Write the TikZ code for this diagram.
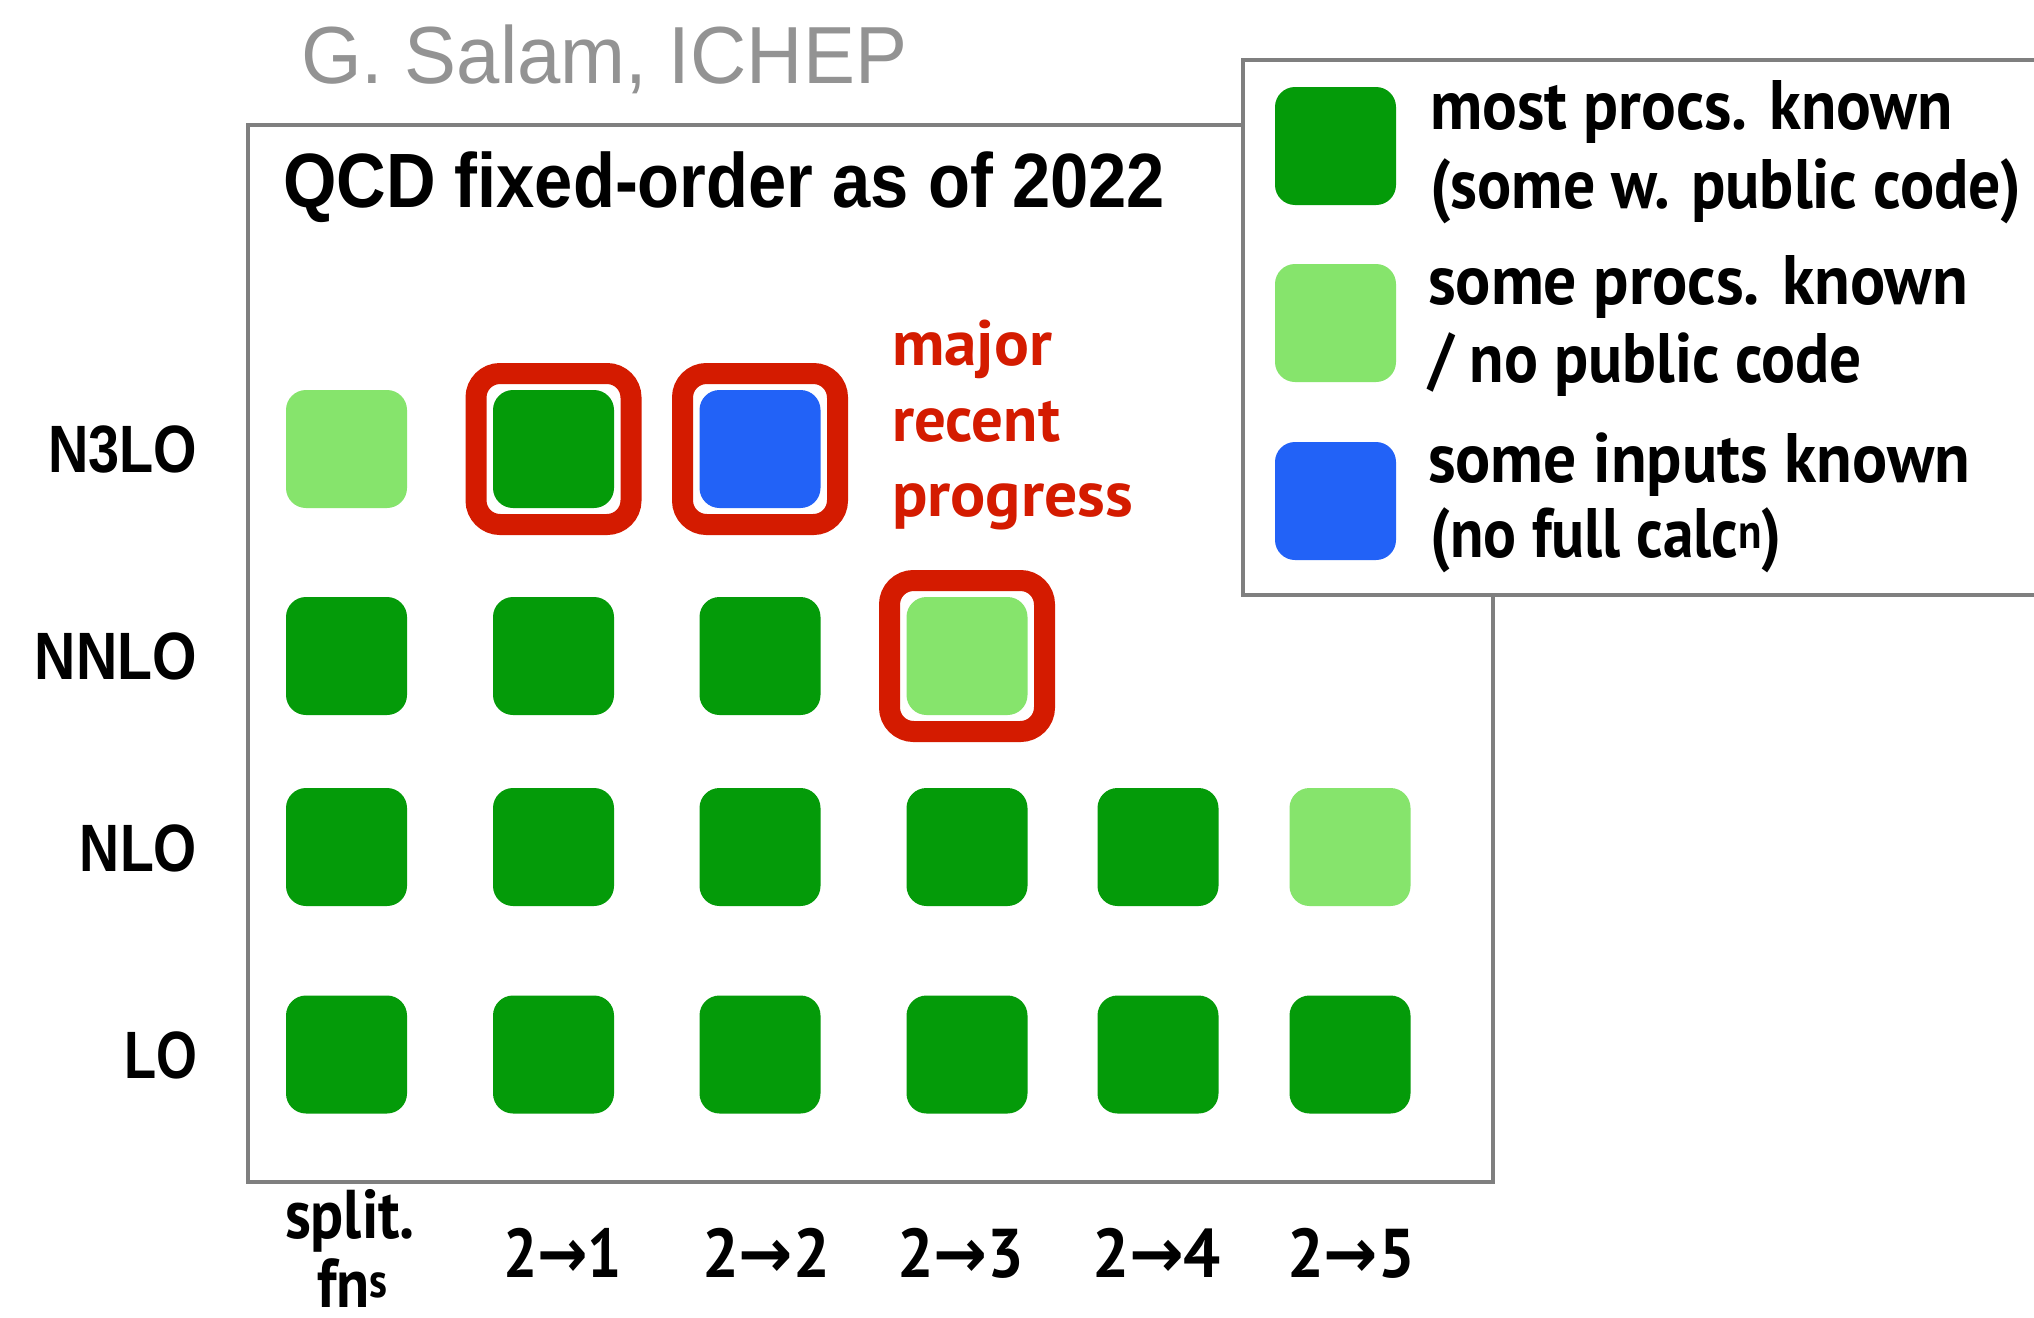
\documentclass[tikz,border=0pt]{standalone}
\usepackage{fontspec}
\usepackage{graphicx}
\setmainfont{PT Sans}
\newfontfamily\dinfont{PT Sans}
\newfontfamily\helvfont{Liberation Sans}
\newfontfamily\arrowfont{DejaVu Sans}
\definecolor{dkgreen}{HTML}{049B09}
\definecolor{ltgreen}{HTML}{86E46C}
\definecolor{inblue}{HTML}{2262F7}
\definecolor{hired}{HTML}{D41B00}
\definecolor{boxgray}{HTML}{7F7F7F}
\definecolor{textgray}{HTML}{939393}
\newcommand\fitw[2]{\resizebox{#1}{\height}{#2}}
\newcommand\arr{{\arrowfont\bfseries →}}
\tikzset{
  cell/.style={rectangle, rounded corners=20pt, minimum width=121pt, minimum height=118pt, inner sep=0pt, draw=none},
  mostk/.style={cell, fill=dkgreen},
  somek/.style={cell, fill=ltgreen},
  inpk/.style={cell, fill=inblue},
  hilite/.style={rectangle, draw=hired, line width=21pt, rounded corners=24pt, minimum width=155pt, minimum height=151pt, inner sep=0pt},
  frame/.style={draw=boxgray, line width=4pt},
  txt/.style={inner sep=0pt, outer sep=0pt, anchor=base west},
  legtxt/.style={txt, font=\dinfont\bfseries\fontsize{70}{70}\selectfont},
  redtxt/.style={txt, text=hired, font=\dinfont\bfseries\fontsize{64}{64}\selectfont},
  collbl/.style={txt, font=\dinfont\bfseries\fontsize{69}{69}\selectfont},
  rowlbl/.style={inner sep=0pt, outer sep=0pt, anchor=base east, font=\helvfont\bfseries\fontsize{67}{67}\selectfont},
}
\begin{document}
\begin{tikzpicture}[x=1pt,y=-1pt]
\clip (0,0) rectangle (2034,1317);
\fill[white] (0,0) rectangle (2034,1317);

% header
\node[txt, text=textgray, font=\helvfont\fontsize{81}{81}\selectfont] (credit) at (301,83) {\fitw{606pt}{G. Salam, ICHEP}};

% main frame
\draw[frame] (248,125) rectangle (1493,1182);
\node[txt, font=\helvfont\bfseries\fontsize{77}{77}\selectfont] (title) at (283,207) {\fitw{882pt}{QCD fixed-order as of 2022}};

% row labels
\node[rowlbl] (rN3) at (197,472) {\fitw{149pt}{N3LO}};
\node[rowlbl] (rN2) at (197,679) {\fitw{162pt}{NNLO}};
\node[rowlbl] (rN1) at (197,871) {\fitw{117pt}{NLO}};
\node[rowlbl] (rL0) at (197,1078) {\fitw{73pt}{LO}};

% grid: N3LO
\node[somek] (c31) at (346.5,449) {};
\node[mostk] (c32) at (553.5,449) {};
\node[inpk]  (c33) at (760,449) {};
% NNLO
\node[mostk] (c21) at (346.5,656) {};
\node[mostk] (c22) at (553.5,656) {};
\node[mostk] (c23) at (760,656) {};
\node[somek] (c24) at (967,656) {};
% NLO
\node[mostk] (c11) at (346.5,847) {};
\node[mostk] (c12) at (553.5,847) {};
\node[mostk] (c13) at (760,847) {};
\node[mostk] (c14) at (967,847) {};
\node[mostk] (c15) at (1158,847) {};
\node[somek] (c16) at (1350,847) {};
% LO
\node[mostk] (c01) at (346.5,1054.5) {};
\node[mostk] (c02) at (553.5,1054.5) {};
\node[mostk] (c03) at (760,1054.5) {};
\node[mostk] (c04) at (967,1054.5) {};
\node[mostk] (c05) at (1158,1054.5) {};
\node[mostk] (c06) at (1350,1054.5) {};

% highlights
\node[hilite] (h32) at (c32) {};
\node[hilite] (h33) at (c33) {};
\node[hilite] (h24) at (c24) {};

% red note
\node[redtxt] (maj) at (892,365) {\fitw{160pt}{major}};
\node[redtxt] (rec) at (892,441) {\fitw{168pt}{recent}};
\node[redtxt] (prg) at (892,516) {\fitw{241pt}{progress}};

% column labels
\node[collbl] (xs1) at (285,1238) {\fitw{130pt}{split.}};
\node[collbl] (xs2) at (317,1307) {\fitw{71pt}{fn\textsuperscript{s}}};
\node[collbl] (x21) at (503,1277) {\fitw{119pt}{2\arr1}};
\node[collbl] (x22) at (702,1277) {\fitw{128pt}{2\arr2}};
\node[collbl] (x23) at (897,1277) {\fitw{127pt}{2\arr3}};
\node[collbl] (x24) at (1092,1277) {\fitw{129pt}{2\arr4}};
\node[collbl] (x25) at (1287,1277) {\fitw{128pt}{2\arr5}};

% legend
\draw[frame, fill=white] (1243,60) rectangle (2060,595);
\node[mostk] (l1) at (1335.5,146) {};
\node[somek] (l2) at (1335.5,323) {};
\node[inpk]  (l3) at (1335.5,501) {};
\node[legtxt] (l1a) at (1430,129) {\fitw{523pt}{most procs. known}};
\node[legtxt] (l1b) at (1430,208) {\fitw{591pt}{(some w. public code)}};
\node[legtxt] (l2a) at (1428,304.5) {\fitw{540pt}{some procs. known}};
\node[legtxt] (l2b) at (1428,382) {\fitw{434pt}{/ no public code}};
\node[legtxt] (l3a) at (1428,482) {\fitw{542pt}{some inputs known}};
\node[legtxt] (l3b) at (1430,557.6) {\fitw{352pt}{(no full calc\textsuperscript{n})}};
\end{tikzpicture}
\end{document}
